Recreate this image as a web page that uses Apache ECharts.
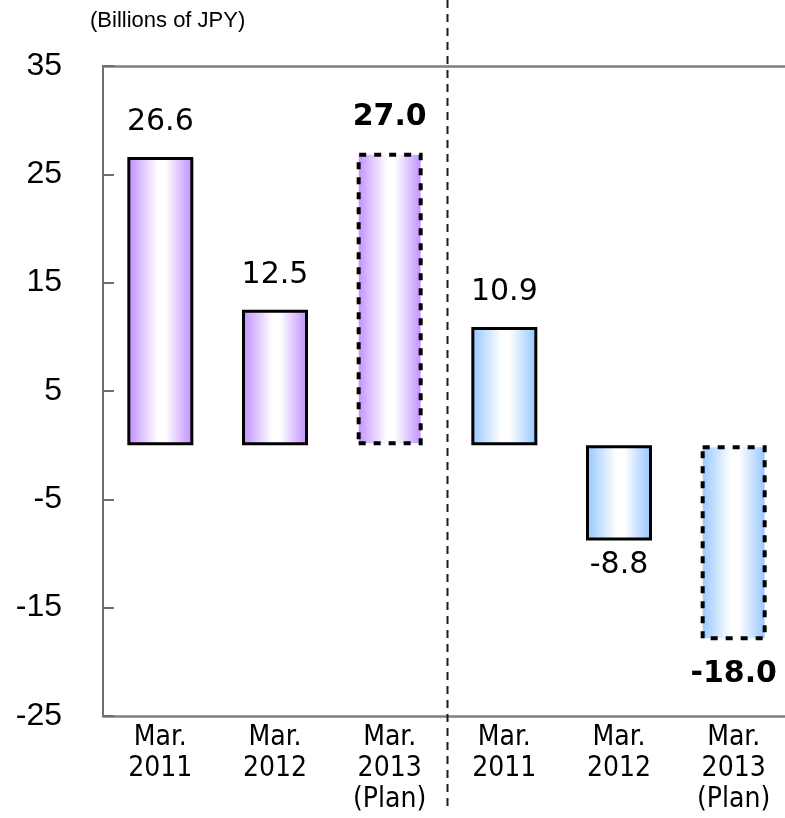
<!DOCTYPE html>
<html>
<head>
<meta charset="utf-8">
<script src="https://cdn.jsdelivr.net/npm/echarts@6/dist/echarts.min.js"></script>
<style>
html,body{margin:0;padding:0;background:#fff;}
#chart{width:785px;height:818px;}
</style>
</head>
<body>
<div id="chart"></div>
<script>
// ---- data ----
var categories = ['Mar.\n2011', 'Mar.\n2012', 'Mar.\n2013\n(Plan)', 'Mar.\n2011', 'Mar.\n2012', 'Mar.\n2013\n(Plan)'];
var leftValues = [26.6, 12.5, 27.0, '-', '-', '-'];
var rightValues = ['-', '-', '-', 10.9, -8.8, -18.0];
var planFlags = [false, false, true, false, false, true];
var yTicks = { min: -25, max: 35, interval: 10 };
var unitLabel = '(Billions of JPY)';

// ---- styles ----
function grad(c) {
  return new echarts.graphic.LinearGradient(0, 0, 1, 0, [
    { offset: 0, color: c }, { offset: 0.06, color: c },
    { offset: 0.46, color: '#ffffff' }, { offset: 0.58, color: '#ffffff' },
    { offset: 0.94, color: c }, { offset: 1, color: c }
  ]);
}
var purple = '#c79bff', blue = '#a0cdff';
var axisFont = 'Liberation Sans, Arial, sans-serif';
var valFont = 'DejaVu Sans, sans-serif';
var catKeys = categories.map(function (c, i) { return String(i); });

function buildData(vals, color) {
  return vals.map(function (v, i) {
    if (v === '-') return '-';
    var plan = planFlags[i];
    var neg = v < 0;
    return {
      value: v,
      itemStyle: {
        color: grad(color),
        borderColor: '#000',
        borderWidth: plan ? 4 : 3,
        borderType: plan ? [7, 8] : 'solid'
      },
      label: {
        show: true,
        position: neg ? 'bottom' : 'top',
        distance: neg ? (plan ? 19 : 10) : 20,
        formatter: function (p) { return p.value.toFixed(1); },
        fontFamily: valFont,
        fontSize: 30,
        fontWeight: plan ? 'bold' : 'normal',
        color: '#000'
      }
    };
  });
}

var chart = echarts.init(document.getElementById('chart'), null, { renderer: 'canvas' });
var option = {
  animation: false,
  backgroundColor: '#fff',
  grid: { left: 103, top: 66, height: 650, width: 688, outerBoundsMode: 'none', containLabel: false },
  xAxis: [{
    type: 'category',
    data: catKeys,
    position: 'bottom',
    axisLine: { show: true, onZero: false, lineStyle: { color: '#7f7f7f', width: 2.5 } },
    axisTick: { show: false },
    axisLabel: {
      interval: 0, margin: 6,
      formatter: function (v) { return categories[+v]; },
      fontFamily: 'Liberation Sans Narrow, DejaVu Sans Condensed, sans-serif',
      fontSize: 28, lineHeight: 31, color: '#000'
    }
  }, {
    type: 'category',
    data: catKeys,
    position: 'top',
    axisLine: { show: true, onZero: false, lineStyle: { color: '#7f7f7f', width: 2.5 } },
    axisTick: { show: false },
    axisLabel: { show: false }
  }],
  yAxis: {
    type: 'value',
    min: yTicks.min, max: yTicks.max, interval: yTicks.interval,
    axisLine: { show: true, lineStyle: { color: '#6f6f6f', width: 2 } },
    axisTick: { show: true, inside: true, length: 11, lineStyle: { color: '#6f6f6f', width: 2 } },
    splitLine: { show: false },
    axisLabel: { margin: 41, fontFamily: axisFont, fontSize: 32, color: '#000' }
  },
  series: [{
    type: 'bar', data: buildData(leftValues, purple), barWidth: 66, barGap: '-100%'
  }, {
    type: 'bar', data: buildData(rightValues, blue), barWidth: 66, barGap: '-100%'
  }]
};
chart.setOption(option);

var xa = chart.convertToPixel({ xAxisIndex: 0 }, 2);
var xb = chart.convertToPixel({ xAxisIndex: 0 }, 3);
var sepX = Math.round((xa + xb) / 2) + 0.5;
chart.setOption({
  graphic: [{
    type: 'line',
    shape: { x1: sepX, y1: 0, x2: sepX, y2: 806 },
    style: { stroke: '#1a1a1a', lineWidth: 2, lineDash: [8, 6] },
    z: 10
  }, {
    type: 'text',
    left: 90, top: 10,
    style: { text: unitLabel, fontSize: 22, fontFamily: 'Liberation Sans, sans-serif', fill: '#000' }
  }]
});
</script>
</body>
</html>
